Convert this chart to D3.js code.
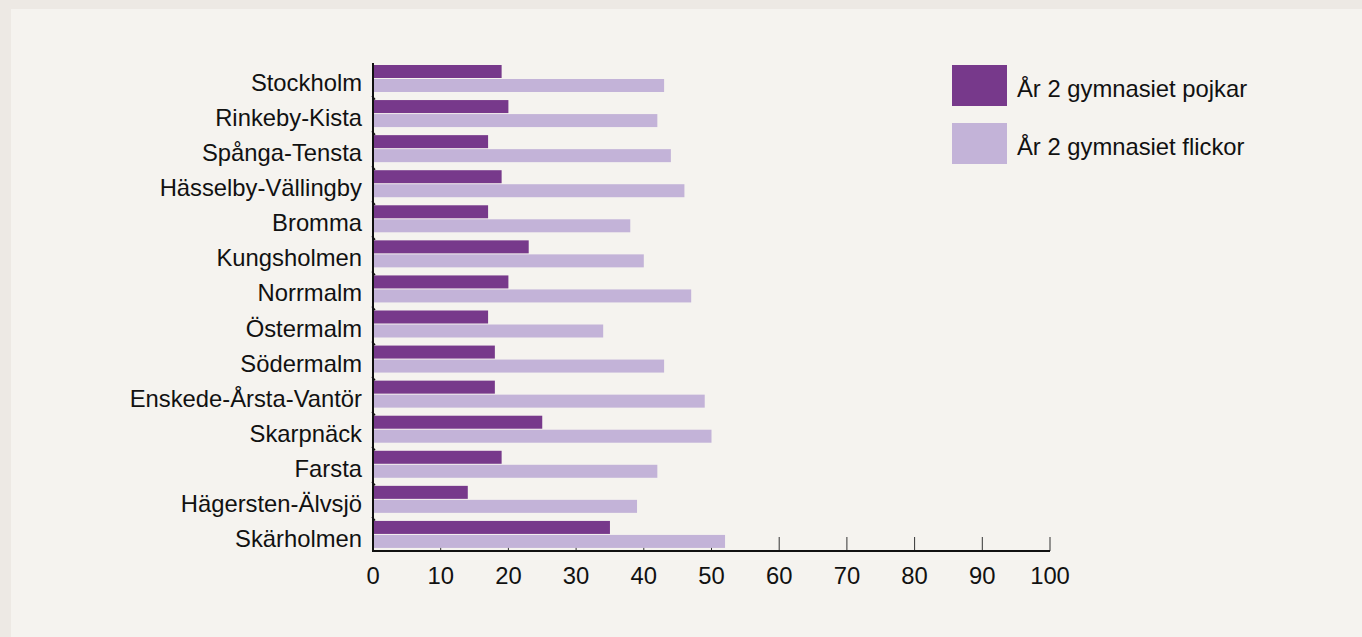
<!DOCTYPE html>
<html>
<head>
<meta charset="utf-8">
<script src="https://cdn.jsdelivr.net/npm/d3@7"></script>
<style>
  html, body { margin: 0; padding: 0; background: #ede9e4; }
  svg { display: block; }
  text { font-family: "Liberation Sans", Arial, sans-serif; fill: #111; }
</style>
</head>
<body>
<svg id="chart" width="1362" height="637"></svg>
<script>
// Stadsdelar (districts), top to bottom
const categories = [
  "Stockholm", "Rinkeby-Kista", "Spånga-Tensta", "Hässelby-Vällingby", "Bromma",
  "Kungsholmen", "Norrmalm", "Östermalm", "Södermalm", "Enskede-Årsta-Vantör",
  "Skarpnäck", "Farsta", "Hägersten-Älvsjö", "Skärholmen"
];
const seriesNames = ["År 2 gymnasiet pojkar", "År 2 gymnasiet flickor"];
const pojkar  = [19, 20, 17, 19, 17, 23, 20, 17, 18, 18, 25, 19, 14, 35];
const flickor = [43, 42, 44, 46, 38, 40, 47, 34, 43, 49, 50, 42, 39, 52];
const xTicks = [0, 10, 20, 30, 40, 50, 60, 70, 80, 90, 100];
const colors = ["#77398b", "#c3b3d8"];

const fontSize = 23.8;
const svg = d3.select("#chart");

// inner panel
svg.append("rect").attr("x", 11).attr("y", 9).attr("width", 1351).attr("height", 628)
  .attr("fill", "#f5f3ef");

const x = d3.scaleLinear().domain([0, 100]).range([373, 1050]);
const y = d3.scaleBand().domain(categories).range([61.5, 552.5]);
const barH = 13;

// x axis ticks pointing up from the baseline
const axisY = 551;
svg.append("g").selectAll("line").data(xTicks).join("line")
  .attr("x1", d => x(d)).attr("x2", d => x(d))
  .attr("y1", axisY - 14).attr("y2", axisY)
  .attr("stroke", "#333").attr("stroke-width", 1);

svg.append("g").selectAll("text").data(xTicks).join("text")
  .attr("x", d => x(d)).attr("y", 584)
  .attr("text-anchor", "middle").attr("font-size", fontSize)
  .text(d => d);

// bars
const rows = svg.append("g").selectAll("g").data(categories).join("g")
  .attr("transform", d => `translate(0,${y(d)})`);

rows.append("rect")
  .attr("x", x(0)).attr("y", 3.5)
  .attr("width", (d, i) => x(pojkar[i]) - x(0)).attr("height", barH)
  .attr("fill", colors[0]);

rows.append("rect")
  .attr("x", x(0)).attr("y", 3.5 + barH + 1)
  .attr("width", (d, i) => x(flickor[i]) - x(0)).attr("height", barH)
  .attr("fill", colors[1]);

// category labels
rows.append("text")
  .attr("x", 362).attr("y", 29.5)
  .attr("text-anchor", "end").attr("font-size", fontSize)
  .text(d => d);

// y axis with small tick marks between groups
svg.append("line").attr("x1", x(0)).attr("x2", x(0))
  .attr("y1", 63).attr("y2", axisY + 1)
  .attr("stroke", "#111").attr("stroke-width", 2);
svg.append("g").selectAll("line").data(categories.slice(1)).join("line")
  .attr("x1", x(0) - 1).attr("x2", x(0) + 2)
  .attr("y1", d => y(d) - 0.5).attr("y2", d => y(d) + 3)
  .attr("stroke", "#111").attr("stroke-width", 1.5);

// x axis line
svg.append("line").attr("x1", x(0) - 1).attr("x2", x(100))
  .attr("y1", axisY).attr("y2", axisY)
  .attr("stroke", "#111").attr("stroke-width", 2);

// legend
const legend = svg.append("g").selectAll("g").data(seriesNames).join("g")
  .attr("transform", (d, i) => `translate(952,${65 + i * 58})`);
legend.append("rect").attr("width", 55).attr("height", 41)
  .attr("fill", (d, i) => colors[i]);
legend.append("text").attr("x", 65).attr("y", 32)
  .attr("font-size", fontSize).text(d => d);
</script>
</body>
</html>
